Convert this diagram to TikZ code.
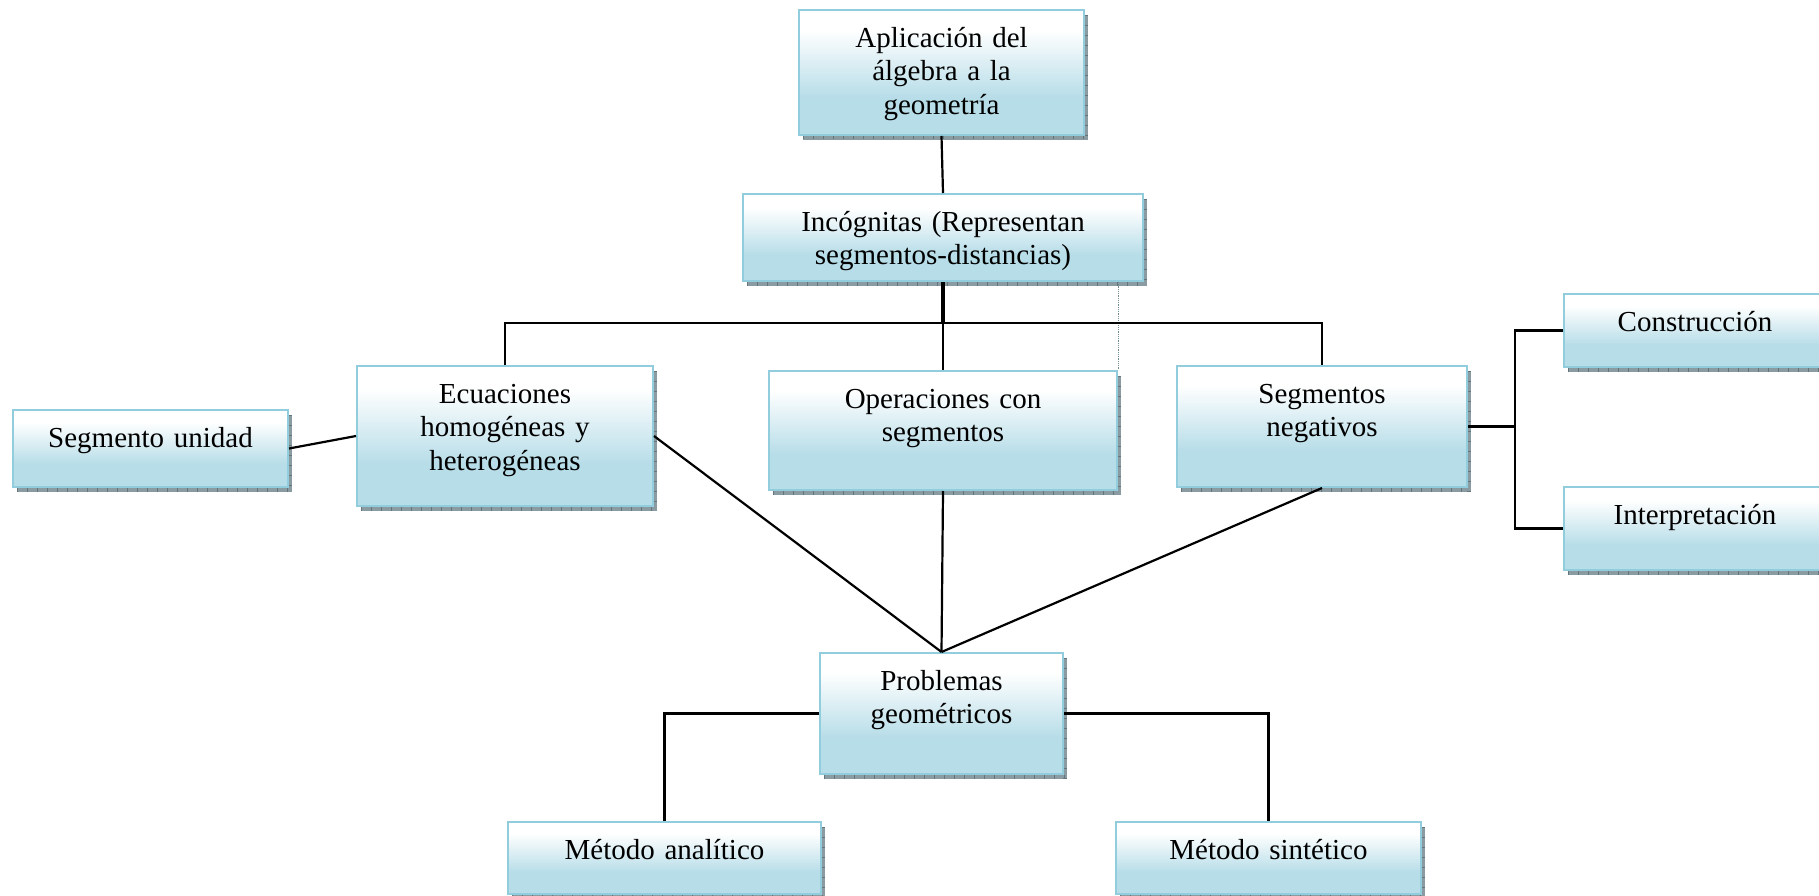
\documentclass[tikz,border=0pt]{standalone}
\usepackage{fontspec}
\setmainfont{Liberation Serif}
\usetikzlibrary{fit}

\definecolor{bxblue}{RGB}{183,221,232}
\definecolor{bdr}{RGB}{146,205,221}
\definecolor{shd}{RGB}{138,156,162}
\definecolor{shdtick}{RGB}{100,118,124}
\definecolor{hair}{RGB}{110,140,150}

% white at the top, fading into light blue towards the bottom
\pgfdeclareverticalshading{boxfill}{100bp}{color(0bp)=(bxblue); color(25bp)=(bxblue); color(40bp)=(bxblue); color(67bp)=(white); color(100bp)=(white)}

\tikzset{
  panel/.style={draw=bdr, line width=2pt, shading=boxfill, inner sep=0pt},
  panelshadow/.style={fill=shd},
  shadowtick/.style={shdtick, line width=4pt, dash pattern=on 1pt off 9pt},
  boxtext/.style={anchor=north, inner sep=0pt, align=center, text width=420pt,
    font=\fontsize{29}{33.5}\selectfont},
  link/.style={line width=2.2pt, black},
  stem/.style={line width=3.2pt, black},
  hairline/.style={line width=0.8pt, hair, densely dotted},
}

% \panelbox{name}{x1}{y1}{x2}{y2}{text}: shaded box with offset shadow, text near the top
\newcommand\panelbox[6]{%
  \fill[panelshadow] (#2+4,#3+5) rectangle (#4+4,#5+5);
  \draw[shadowtick] (#2+4,#5+2.5) -- (#4+4,#5+2.5);
  \draw[shadowtick] (#4+2,#3+5) -- (#4+2,#5+5);
  \node[panel, fit={(#2,#3) (#4,#5)}] (#1) {};
  \node[boxtext] (#1-t) at ([yshift=-14.5pt]#1.north) {\strut #6};
}

\begin{document}
\begin{tikzpicture}[x=1pt, y=-1pt]
\useasboundingbox (0,0) rectangle (1819,896);
\clip (0,0) rectangle (1819,896);

\panelbox{top}{799}{10}{1084}{135}{Aplicación del\\álgebra a la\\geometría}
\panelbox{inc}{743}{194}{1143}{281}{Incógnitas (Representan\\segmentos-distancias)}
\panelbox{su}{13}{410}{288}{487}{Segmento unidad}
\panelbox{ecu}{357}{366}{653}{506}{Ecuaciones\\homogéneas y\\heterogéneas}
\panelbox{op}{769}{371}{1117}{490}{Operaciones con\\segmentos}
\panelbox{seg}{1177}{366}{1467}{487}{Segmentos\\negativos}
\panelbox{con}{1564}{294}{1826}{367}{Construcción}
\panelbox{int}{1564}{487}{1826}{570}{Interpretación}
\panelbox{prob}{820}{653}{1063}{774}{Problemas\\geométricos}
\panelbox{ma}{508}{822}{821}{894}{Método analítico}
\panelbox{ms}{1116}{822}{1421}{894}{Método sintético}

\coordinate (bar) at (943,323);
\coordinate (fk) at (1515,426);

\draw[link] (top.south) -- (inc.north);
\draw[stem] (inc.south) -- (inc.south |- bar);
\draw[link] (inc.south) -- (op.north);
\draw[hairline] (inc.south -| op.north east) -- (op.north east);
\draw[link] (ecu.north) -- (ecu.north |- bar) -- (seg.north |- bar) -- (seg.north);
\draw[link] (su.east) -- (ecu.west);
\draw[link] (ecu.east) -- (prob.north);
\draw[link] (op.south) -- (prob.north);
\draw[link] (seg.south) -- (prob.north);
\draw[link] (seg.east) -- (seg.east -| fk);
\draw[link] (con.west) -| (fk) |- (int.west);
\draw[link] (prob.west) -| (ma.north);
\draw[link] (prob.east) -| (ms.north);
\end{tikzpicture}
\end{document}
